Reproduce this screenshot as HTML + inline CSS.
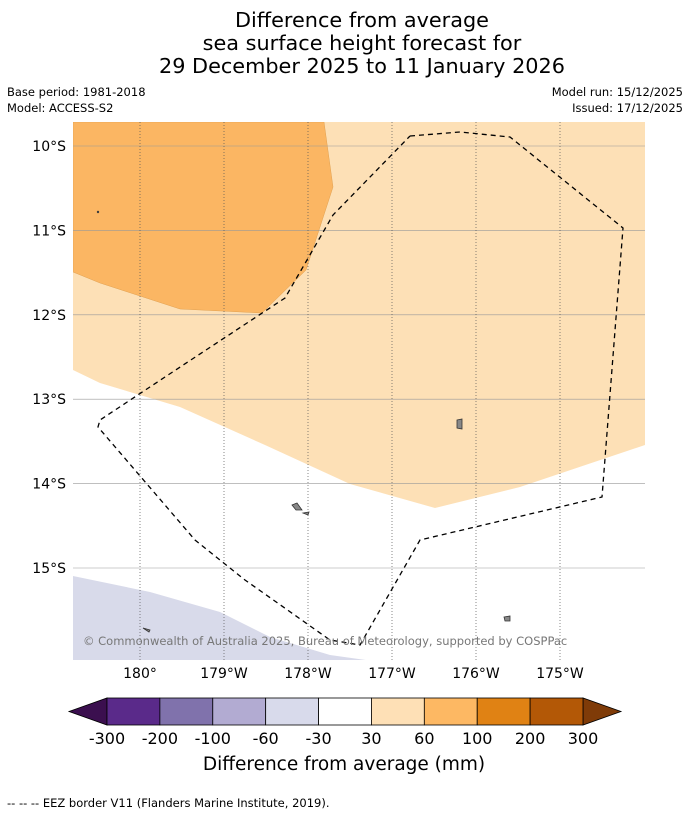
<!DOCTYPE html>
<html><head><meta charset="utf-8"><style>
body{margin:0;background:#fff;font-family:"DejaVu Sans",sans-serif}
</style></head><body>
<svg width="690" height="816" viewBox="0 0 690 816" xmlns="http://www.w3.org/2000/svg" font-family="DejaVu Sans, sans-serif">
<g font-size="20.8" text-anchor="middle" fill="#000">
<text x="362" y="27">Difference from average</text>
<text x="362" y="50">sea surface height forecast for</text>
<text x="362" y="73">29 December 2025 to 11 January 2026</text>
</g>
<g font-size="11.5" fill="#000">
<text x="7" y="96">Base period: 1981-2018</text>
<text x="7" y="112">Model: ACCESS-S2</text>
<text x="683" y="96" text-anchor="end">Model run: 15/12/2025</text>
<text x="683" y="112" text-anchor="end">Issued: 17/12/2025</text>
</g>
<defs><clipPath id="mc"><rect x="73" y="122" width="572" height="538"/></clipPath></defs>
<g clip-path="url(#mc)">
<rect x="73" y="122" width="572" height="538" fill="#fff"/>
<polygon fill="#fde0b6" points="73,122 645,122 645,445 520,487 435,508 350,484 265,445 180,407 100,383 73,370"/>
<polygon fill="#fbb663" stroke="#e0a050" stroke-width="0.5" points="73,122 324,122 333,187 306,270 262,313 180,309 100,283 73,272"/>
<polygon fill="#d8daea" points="73,576 150,592 220,612 270,637 330,655 380,662 73,662"/>
<g id="grid"></g>
<polyline fill="none" stroke="#000" stroke-width="1.3" stroke-dasharray="5,4" points="410,136 460,132 510,137 623,228 602,497 420,540 360,645 330,640 245,580 195,540 98,427 100,420 165,377 285,298 333,215 410,136"/>
<g fill="#888" stroke="#333" stroke-width="0.8">
<polygon points="457,420 462,419 462,429 457,428"/>
<polygon points="292,505 297,503 302,510 296,510"/>
<polygon points="303,513 309,512 308,515"/>
<polygon points="504,617 510,616 510,621 505,621"/>
<polygon points="143,628 150,630 149,632"/>
<circle cx="98" cy="212" r="0.8"/>
</g>
<text x="83" y="645" font-size="11.5" fill="#777">© Commonwealth of Australia 2025, Bureau of Meteorology, supported by COSPPac</text>
</g>
<g id="axes" font-size="14" fill="#000"></g>
<g id="cbar"></g>
<text x="344" y="770" font-size="18.5" text-anchor="middle">Difference from average (mm)</text>
<text x="7" y="807" font-size="11.5">--  --  -- EEZ border V11 (Flanders Marine Institute, 2019).</text>
</svg>
<script>
const latTicks=[10,11,12,13,14,15];
const lonTicks=["180°","179°W","178°W","177°W","176°W","175°W"];
const lonVals=[180,179,178,177,176,175];
const cbLabels=["-300","-200","-100","-60","-30","30","60","100","200","300"];
const cbColors=["#5a2a8a","#8072ac","#b2abd2","#d8daeb","#ffffff","#fee0b6","#fdb863","#e08214","#b35806"];
const ns="http://www.w3.org/2000/svg";
function yLat(l){return 146+(l-10)*84.4;}
function xLon(l){return 140+(180-l)*84;}
function mk(t,a,p){const e=document.createElementNS(ns,t);for(const k in a)e.setAttribute(k,a[k]);p.appendChild(e);return e;}
const g=document.getElementById('grid'),ax=document.getElementById('axes'),cb=document.getElementById('cbar');
latTicks.forEach(l=>{
 const y=yLat(l);
 const ln=mk('line',{x1:73,x2:645,y1:y,y2:y,stroke:'#999','stroke-width':0.6},g);
 
 
 const t=mk('text',{x:66,y:y+5,'text-anchor':'end'},ax);t.textContent=l+"°S";
 
 
});
lonVals.forEach((l,i)=>{
 const x=xLon(l);
 const ln=mk('line',{x1:x,x2:x,y1:122,y2:660,stroke:'#555','stroke-width':0.7,'stroke-dasharray':'1,2'},g);
 
 
 const t=mk('text',{x:x,y:678,'text-anchor':'middle'},ax);t.textContent=lonTicks[i];
 
 
});
const x0=107,x1=583,w=(x1-x0)/cbColors.length;
const lt=mk('polygon',{points:`${x0},698 ${x0},725 69,711.5`,fill:'#3b0f4f',stroke:'#000','stroke-width':0.8},cb);


const rt=mk('polygon',{points:`${x1},698 ${x1},725 621,711.5`,fill:'#7f3b08',stroke:'#000','stroke-width':0.8},cb);


cbColors.forEach((c,i)=>{
 const r=mk('rect',{x:x0+i*w,y:698,width:w,height:27,fill:c,stroke:'#000','stroke-width':0.8},cb);
 
 
});
cbLabels.forEach((s,i)=>{
 const t=mk('text',{x:x0+i*w,y:744,'text-anchor':'middle','font-size':16},cb);t.textContent=s;
 
 
});
</script>
</body></html>
